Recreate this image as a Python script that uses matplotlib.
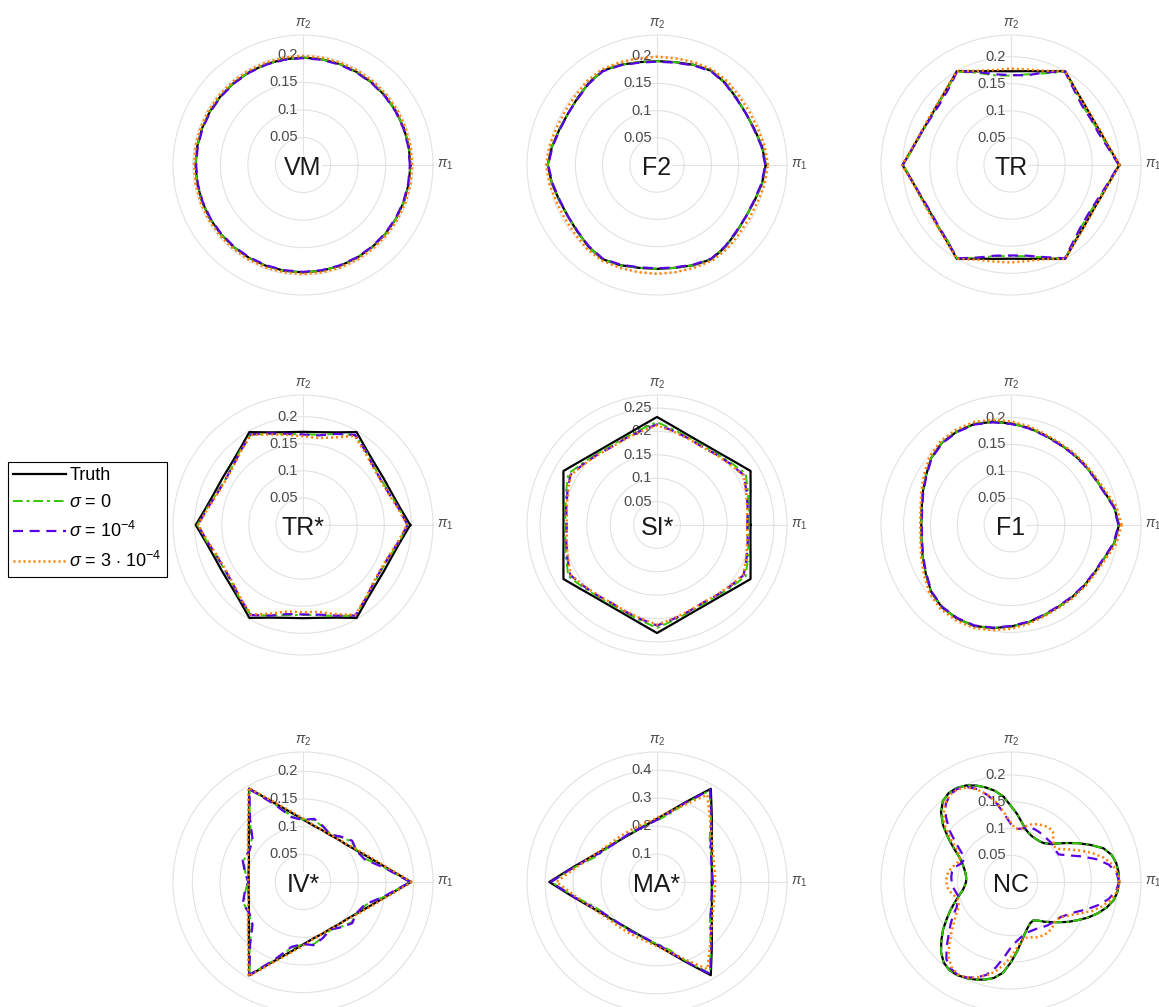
import numpy as np
import matplotlib.pyplot as plt
from matplotlib.transforms import offset_copy

plt.rcParams['font.family'] = ['Liberation Sans', 'DejaVu Sans']
plt.rcParams['mathtext.fontset'] = 'custom'
plt.rcParams['mathtext.rm'] = 'Liberation Sans'
plt.rcParams['mathtext.it'] = 'Liberation Sans:italic'

# radius of each curve, read at equal angle steps from 0 (pi_1 axis) counter-clockwise
# (10 degree steps, 5 degree steps for NC)
vm_truth = [0.195, 0.195, 0.195, 0.195, 0.195, 0.195, 0.195, 0.195, 0.195, 0.195, 0.195, 0.195,
            0.195, 0.195, 0.195, 0.195, 0.195, 0.195, 0.195, 0.195, 0.195, 0.195, 0.195, 0.195,
            0.195, 0.195, 0.195, 0.195, 0.195, 0.195, 0.195, 0.195, 0.195, 0.195, 0.195, 0.195]
vm_s0 = [0.195, 0.195, 0.195, 0.195, 0.195, 0.195, 0.195, 0.195, 0.195, 0.195, 0.195, 0.195,
         0.195, 0.195, 0.195, 0.195, 0.195, 0.195, 0.195, 0.195, 0.195, 0.195, 0.195, 0.195,
         0.195, 0.195, 0.195, 0.195, 0.195, 0.195, 0.195, 0.195, 0.195, 0.195, 0.195, 0.195]
vm_s1 = [0.194, 0.194, 0.194, 0.194, 0.194, 0.194, 0.194, 0.194, 0.194, 0.194, 0.194, 0.194,
         0.194, 0.194, 0.194, 0.194, 0.194, 0.194, 0.194, 0.194, 0.194, 0.194, 0.194, 0.194,
         0.194, 0.194, 0.194, 0.194, 0.194, 0.194, 0.194, 0.194, 0.194, 0.194, 0.194, 0.194]
vm_s3 = [0.198, 0.198, 0.198, 0.198, 0.198, 0.198, 0.198, 0.198, 0.198, 0.198, 0.198, 0.198,
         0.198, 0.198, 0.198, 0.198, 0.198, 0.198, 0.198, 0.198, 0.198, 0.198, 0.198, 0.198,
         0.198, 0.198, 0.198, 0.198, 0.198, 0.198, 0.198, 0.198, 0.198, 0.198, 0.198, 0.198]

f2_truth = [0.200, 0.196, 0.191, 0.189, 0.191, 0.196, 0.200, 0.196, 0.192, 0.191, 0.192, 0.196,
            0.200, 0.196, 0.191, 0.189, 0.191, 0.196, 0.201, 0.196, 0.191, 0.189, 0.191, 0.196,
            0.200, 0.196, 0.192, 0.191, 0.192, 0.196, 0.200, 0.196, 0.191, 0.189, 0.191, 0.196]
f2_s0 = [0.200, 0.196, 0.191, 0.189, 0.191, 0.196, 0.200, 0.196, 0.192, 0.191, 0.192, 0.196,
         0.200, 0.196, 0.191, 0.189, 0.191, 0.196, 0.201, 0.196, 0.191, 0.189, 0.191, 0.196,
         0.200, 0.196, 0.192, 0.191, 0.192, 0.196, 0.200, 0.196, 0.191, 0.189, 0.191, 0.196]
f2_s1 = [0.199, 0.195, 0.190, 0.189, 0.190, 0.195, 0.199, 0.195, 0.191, 0.190, 0.191, 0.195,
         0.199, 0.195, 0.190, 0.189, 0.190, 0.195, 0.200, 0.195, 0.190, 0.189, 0.190, 0.195,
         0.199, 0.195, 0.191, 0.190, 0.191, 0.195, 0.199, 0.195, 0.190, 0.189, 0.190, 0.195]
f2_s3 = [0.204, 0.201, 0.197, 0.196, 0.197, 0.201, 0.203, 0.201, 0.199, 0.199, 0.199, 0.201,
         0.203, 0.201, 0.197, 0.196, 0.197, 0.201, 0.204, 0.201, 0.197, 0.196, 0.197, 0.201,
         0.203, 0.201, 0.200, 0.200, 0.200, 0.201, 0.203, 0.201, 0.197, 0.196, 0.197, 0.201]

tr_truth = [0.200, 0.184, 0.176, 0.173, 0.176, 0.184, 0.200, 0.184, 0.176, 0.173, 0.176, 0.184,
            0.200, 0.184, 0.176, 0.173, 0.176, 0.184, 0.200, 0.184, 0.176, 0.173, 0.176, 0.184,
            0.200, 0.184, 0.176, 0.173, 0.176, 0.184, 0.200, 0.184, 0.176, 0.173, 0.176, 0.184]
tr_s0 = [0.199, 0.183, 0.174, 0.170, 0.172, 0.182, 0.199, 0.180, 0.170, 0.165, 0.168, 0.181,
         0.199, 0.183, 0.176, 0.172, 0.175, 0.183, 0.199, 0.183, 0.177, 0.174, 0.176, 0.182,
         0.199, 0.182, 0.171, 0.168, 0.171, 0.182, 0.199, 0.182, 0.172, 0.170, 0.174, 0.184]
tr_s1 = [0.199, 0.182, 0.172, 0.170, 0.171, 0.181, 0.199, 0.182, 0.168, 0.166, 0.170, 0.183,
         0.199, 0.181, 0.173, 0.172, 0.176, 0.184, 0.200, 0.184, 0.175, 0.172, 0.175, 0.183,
         0.199, 0.182, 0.170, 0.167, 0.170, 0.181, 0.199, 0.181, 0.171, 0.169, 0.173, 0.183]
tr_s3 = [0.201, 0.185, 0.177, 0.174, 0.176, 0.184, 0.200, 0.185, 0.179, 0.178, 0.178, 0.185,
         0.200, 0.185, 0.177, 0.175, 0.177, 0.185, 0.201, 0.185, 0.177, 0.175, 0.177, 0.185,
         0.200, 0.186, 0.181, 0.180, 0.180, 0.185, 0.200, 0.185, 0.177, 0.174, 0.176, 0.185]

trs_truth = [0.198, 0.182, 0.174, 0.172, 0.174, 0.182, 0.198, 0.182, 0.174, 0.172, 0.174, 0.182,
             0.198, 0.182, 0.174, 0.172, 0.174, 0.182, 0.198, 0.182, 0.174, 0.172, 0.174, 0.182,
             0.198, 0.182, 0.174, 0.172, 0.174, 0.182, 0.198, 0.182, 0.174, 0.172, 0.174, 0.182]
trs_s0 = [0.193, 0.180, 0.170, 0.167, 0.170, 0.180, 0.192, 0.179, 0.169, 0.168, 0.170, 0.179,
          0.193, 0.180, 0.170, 0.166, 0.170, 0.180, 0.195, 0.180, 0.170, 0.167, 0.170, 0.180,
          0.192, 0.178, 0.169, 0.166, 0.169, 0.179, 0.193, 0.179, 0.170, 0.167, 0.170, 0.180]
trs_s1 = [0.193, 0.179, 0.169, 0.166, 0.169, 0.179, 0.192, 0.179, 0.168, 0.167, 0.171, 0.180,
          0.193, 0.179, 0.169, 0.166, 0.169, 0.179, 0.194, 0.179, 0.169, 0.166, 0.169, 0.179,
          0.192, 0.178, 0.167, 0.165, 0.168, 0.178, 0.193, 0.179, 0.169, 0.166, 0.169, 0.179]
trs_s3 = [0.192, 0.178, 0.168, 0.165, 0.168, 0.177, 0.190, 0.172, 0.163, 0.164, 0.169, 0.178,
          0.192, 0.178, 0.168, 0.165, 0.168, 0.178, 0.194, 0.178, 0.168, 0.165, 0.168, 0.178,
          0.191, 0.174, 0.162, 0.161, 0.163, 0.175, 0.192, 0.178, 0.168, 0.165, 0.168, 0.178]

si_truth = [0.200, 0.203, 0.213, 0.231, 0.213, 0.203, 0.200, 0.203, 0.213, 0.231, 0.213, 0.203,
            0.200, 0.203, 0.213, 0.231, 0.213, 0.203, 0.200, 0.203, 0.213, 0.231, 0.213, 0.203,
            0.200, 0.203, 0.213, 0.231, 0.213, 0.203, 0.200, 0.203, 0.213, 0.231, 0.213, 0.203]
si_s0 = [0.196, 0.199, 0.207, 0.219, 0.207, 0.199, 0.196, 0.199, 0.207, 0.220, 0.207, 0.199,
         0.196, 0.199, 0.207, 0.219, 0.207, 0.199, 0.196, 0.199, 0.207, 0.219, 0.207, 0.199,
         0.196, 0.199, 0.207, 0.220, 0.207, 0.199, 0.196, 0.199, 0.207, 0.219, 0.207, 0.199]
si_s1 = [0.193, 0.197, 0.204, 0.214, 0.204, 0.197, 0.193, 0.197, 0.204, 0.215, 0.204, 0.197,
         0.193, 0.197, 0.204, 0.214, 0.204, 0.197, 0.193, 0.197, 0.204, 0.214, 0.204, 0.197,
         0.193, 0.197, 0.204, 0.215, 0.204, 0.197, 0.193, 0.197, 0.204, 0.214, 0.204, 0.197]
si_s3 = [0.193, 0.196, 0.203, 0.213, 0.203, 0.196, 0.193, 0.196, 0.203, 0.213, 0.203, 0.196,
         0.193, 0.196, 0.203, 0.213, 0.203, 0.196, 0.193, 0.196, 0.203, 0.213, 0.203, 0.196,
         0.193, 0.196, 0.203, 0.213, 0.203, 0.196, 0.193, 0.196, 0.203, 0.213, 0.203, 0.196]

f1_truth = [0.201, 0.195, 0.184, 0.179, 0.177, 0.176, 0.176, 0.179, 0.184, 0.189, 0.195, 0.200,
            0.201, 0.200, 0.194, 0.183, 0.175, 0.169, 0.167, 0.169, 0.175, 0.183, 0.194, 0.200,
            0.201, 0.200, 0.195, 0.189, 0.184, 0.179, 0.176, 0.176, 0.177, 0.179, 0.184, 0.195]
f1_s0 = [0.201, 0.195, 0.184, 0.179, 0.177, 0.176, 0.176, 0.179, 0.184, 0.189, 0.195, 0.200,
         0.201, 0.200, 0.194, 0.183, 0.175, 0.169, 0.167, 0.169, 0.175, 0.183, 0.194, 0.200,
         0.201, 0.200, 0.195, 0.189, 0.184, 0.179, 0.176, 0.176, 0.177, 0.179, 0.184, 0.195]
f1_s1 = [0.200, 0.194, 0.183, 0.178, 0.176, 0.175, 0.175, 0.178, 0.183, 0.188, 0.194, 0.199,
         0.200, 0.199, 0.193, 0.182, 0.174, 0.168, 0.166, 0.168, 0.174, 0.182, 0.193, 0.199,
         0.200, 0.199, 0.194, 0.188, 0.183, 0.178, 0.175, 0.175, 0.176, 0.178, 0.183, 0.194]
f1_s3 = [0.206, 0.199, 0.187, 0.181, 0.179, 0.178, 0.178, 0.181, 0.187, 0.193, 0.199, 0.204,
         0.205, 0.204, 0.198, 0.187, 0.178, 0.171, 0.169, 0.171, 0.178, 0.187, 0.198, 0.204,
         0.205, 0.204, 0.199, 0.193, 0.187, 0.181, 0.178, 0.178, 0.179, 0.181, 0.187, 0.199]

iv_truth = [0.195, 0.152, 0.128, 0.113, 0.104, 0.100, 0.098, 0.100, 0.104, 0.113, 0.128, 0.152,
            0.195, 0.152, 0.128, 0.113, 0.104, 0.100, 0.098, 0.100, 0.104, 0.113, 0.128, 0.152,
            0.195, 0.152, 0.128, 0.113, 0.104, 0.100, 0.098, 0.100, 0.104, 0.113, 0.128, 0.152]
iv_s0 = [0.193, 0.150, 0.121, 0.113, 0.114, 0.106, 0.100, 0.106, 0.114, 0.113, 0.121, 0.150,
         0.193, 0.150, 0.121, 0.113, 0.114, 0.106, 0.100, 0.106, 0.114, 0.113, 0.121, 0.150,
         0.193, 0.150, 0.121, 0.113, 0.114, 0.106, 0.100, 0.106, 0.114, 0.113, 0.121, 0.150]
iv_s1 = [0.194, 0.149, 0.119, 0.112, 0.116, 0.107, 0.099, 0.107, 0.116, 0.112, 0.119, 0.149,
         0.194, 0.149, 0.119, 0.112, 0.116, 0.107, 0.099, 0.107, 0.116, 0.112, 0.119, 0.149,
         0.194, 0.149, 0.119, 0.112, 0.116, 0.107, 0.099, 0.107, 0.116, 0.112, 0.119, 0.149]
iv_s3 = [0.197, 0.154, 0.130, 0.115, 0.105, 0.100, 0.099, 0.100, 0.105, 0.115, 0.130, 0.154,
         0.197, 0.154, 0.130, 0.115, 0.105, 0.100, 0.099, 0.100, 0.105, 0.115, 0.130, 0.154,
         0.197, 0.154, 0.130, 0.115, 0.105, 0.100, 0.099, 0.100, 0.105, 0.115, 0.130, 0.154]

ma_truth = [0.196, 0.199, 0.209, 0.226, 0.256, 0.305, 0.385, 0.305, 0.256, 0.226, 0.209, 0.199,
            0.196, 0.199, 0.209, 0.226, 0.256, 0.305, 0.385, 0.305, 0.256, 0.226, 0.209, 0.199,
            0.196, 0.199, 0.209, 0.226, 0.256, 0.305, 0.385, 0.305, 0.256, 0.226, 0.209, 0.199]
ma_s0 = [0.198, 0.200, 0.212, 0.220, 0.246, 0.300, 0.378, 0.300, 0.246, 0.220, 0.212, 0.200,
         0.198, 0.200, 0.212, 0.220, 0.246, 0.300, 0.378, 0.300, 0.246, 0.220, 0.212, 0.200,
         0.198, 0.200, 0.212, 0.220, 0.246, 0.300, 0.378, 0.300, 0.246, 0.220, 0.212, 0.200]
ma_s1 = [0.200, 0.200, 0.207, 0.222, 0.252, 0.303, 0.380, 0.303, 0.252, 0.222, 0.207, 0.200,
         0.200, 0.200, 0.207, 0.222, 0.252, 0.303, 0.380, 0.303, 0.252, 0.222, 0.207, 0.200,
         0.200, 0.200, 0.207, 0.222, 0.252, 0.303, 0.380, 0.303, 0.252, 0.222, 0.207, 0.200]
ma_s3 = [0.208, 0.210, 0.216, 0.230, 0.255, 0.295, 0.360, 0.295, 0.255, 0.230, 0.216, 0.210,
         0.208, 0.210, 0.216, 0.230, 0.255, 0.295, 0.360, 0.295, 0.255, 0.230, 0.216, 0.210,
         0.208, 0.210, 0.216, 0.230, 0.255, 0.295, 0.360, 0.295, 0.255, 0.230, 0.216, 0.210]

nc_truth = [0.202, 0.202, 0.200, 0.195, 0.184, 0.164, 0.145, 0.127, 0.112, 0.101, 0.095, 0.093,
            0.093, 0.094, 0.097, 0.103, 0.114, 0.128, 0.142, 0.160, 0.173, 0.183, 0.192, 0.199,
            0.203, 0.203, 0.198, 0.185, 0.166, 0.143, 0.122, 0.105, 0.096, 0.090, 0.086, 0.084,
            0.084, 0.087, 0.092, 0.101, 0.112, 0.125, 0.139, 0.155, 0.170, 0.185, 0.196, 0.201,
            0.201, 0.198, 0.194, 0.189, 0.182, 0.170, 0.150, 0.130, 0.113, 0.100, 0.091, 0.085,
            0.083, 0.088, 0.097, 0.106, 0.117, 0.130, 0.143, 0.158, 0.172, 0.185, 0.195, 0.200]
nc_s0 = [0.202, 0.202, 0.200, 0.195, 0.184, 0.164, 0.145, 0.127, 0.112, 0.101, 0.095, 0.093,
         0.093, 0.094, 0.097, 0.103, 0.114, 0.128, 0.142, 0.160, 0.173, 0.183, 0.192, 0.199,
         0.203, 0.203, 0.198, 0.185, 0.166, 0.143, 0.122, 0.105, 0.096, 0.090, 0.086, 0.084,
         0.084, 0.087, 0.092, 0.101, 0.112, 0.125, 0.139, 0.155, 0.170, 0.185, 0.196, 0.201,
         0.201, 0.198, 0.194, 0.189, 0.182, 0.170, 0.150, 0.130, 0.113, 0.100, 0.091, 0.085,
         0.083, 0.088, 0.097, 0.106, 0.117, 0.130, 0.143, 0.158, 0.172, 0.185, 0.195, 0.200]
nc_s1 = [0.202, 0.198, 0.186, 0.165, 0.140, 0.118, 0.103, 0.102, 0.104, 0.105, 0.105, 0.106,
         0.107, 0.108, 0.108, 0.105, 0.101, 0.100, 0.108, 0.125, 0.148, 0.168, 0.185, 0.196,
         0.201, 0.199, 0.190, 0.172, 0.150, 0.125, 0.105, 0.097, 0.100, 0.108, 0.112, 0.112,
         0.111, 0.109, 0.105, 0.102, 0.106, 0.112, 0.125, 0.138, 0.152, 0.170, 0.188, 0.197,
         0.200, 0.197, 0.190, 0.180, 0.162, 0.140, 0.122, 0.112, 0.105, 0.101, 0.099, 0.099,
         0.100, 0.103, 0.106, 0.108, 0.110, 0.114, 0.122, 0.133, 0.150, 0.168, 0.185, 0.197]
nc_s3 = [0.203, 0.200, 0.192, 0.178, 0.160, 0.140, 0.122, 0.108, 0.104, 0.112, 0.122, 0.124,
         0.122, 0.119, 0.115, 0.108, 0.100, 0.100, 0.110, 0.128, 0.150, 0.168, 0.184, 0.195,
         0.200, 0.199, 0.192, 0.178, 0.160, 0.136, 0.114, 0.106, 0.106, 0.112, 0.118, 0.121,
         0.121, 0.119, 0.114, 0.107, 0.104, 0.108, 0.118, 0.130, 0.145, 0.163, 0.182, 0.194,
         0.199, 0.197, 0.190, 0.181, 0.170, 0.155, 0.140, 0.124, 0.112, 0.108, 0.110, 0.114,
         0.116, 0.117, 0.116, 0.113, 0.110, 0.115, 0.125, 0.140, 0.160, 0.176, 0.190, 0.199]

panel_names = ['VM', 'F2', 'TR', 'TR*', 'SI*', 'F1', 'IV*', 'MA*', 'NC']
panel_curves = [
    (vm_truth, vm_s0, vm_s1, vm_s3), (f2_truth, f2_s0, f2_s1, f2_s3), (tr_truth, tr_s0, tr_s1, tr_s3),
    (trs_truth, trs_s0, trs_s1, trs_s3), (si_truth, si_s0, si_s1, si_s3), (f1_truth, f1_s0, f1_s1, f1_s3),
    (iv_truth, iv_s0, iv_s1, iv_s3), (ma_truth, ma_s0, ma_s1, ma_s3), (nc_truth, nc_s0, nc_s1, nc_s3),
]
panel_rmax = [0.236, 0.239, 0.240, 0.240, 0.278, 0.242, 0.235, 0.465, 0.243]
small_ticks = [0.05, 0.1, 0.15, 0.2]
panel_ticks = [small_ticks, small_ticks, small_ticks, small_ticks, [0.05, 0.1, 0.15, 0.2, 0.25],
               small_ticks, small_ticks, [0.1, 0.2, 0.3, 0.4], small_ticks]

series_labels = ['Truth', r'$\sigma$ = 0', r'$\sigma$ = 10$^{-4}$', r'$\sigma$ = 3 $\cdot$ 10$^{-4}$']
series_colors = ['black', '#33c800', '#5a00e6', '#ff8000']
series_styles = ['-', (0, (5, 2, 1.5, 2)), (0, (4.5, 3)), (0, (0.8, 1.2))]
series_widths = [1.6, 1.4, 1.6, 1.8]

W, H = 1159, 1007
fig = plt.figure(figsize=(W / 100, H / 100), dpi=100)
col_x = [303, 657, 1011]
row_y = [165, 525, 882]
R = 130
grid_col = '#e2e2e2'
lab_col = '#4a4a4a'

handles = []
for i, name in enumerate(panel_names):
    cx, cy = col_x[i % 3], row_y[i // 3]
    ax = fig.add_axes([(cx - R) / W, 1 - (cy + R) / H, 2 * R / W, 2 * R / H], projection='polar')
    rmax = panel_rmax[i]
    for k, r in enumerate(panel_curves[i]):
        th = np.linspace(0, 2 * np.pi, len(r), endpoint=False)
        th = np.append(th, th[0])
        rr = np.append(r, r[0])
        ln, = ax.plot(th, rr, color=series_colors[k], linestyle=series_styles[k],
                      lw=series_widths[k], label=series_labels[k], zorder=3 + k)
        if i == 0:
            handles.append(ln)
    ax.set_rlim(0, rmax)
    ax.set_rgrids(panel_ticks[i], labels=['' for t in panel_ticks[i]])
    ax.set_thetagrids([0, 90], labels=['', ''])
    ax.grid(color=grid_col, lw=0.8)
    ax.spines['polar'].set_edgecolor(grid_col)
    ax.spines['polar'].set_linewidth(0.8)
    ax.tick_params(pad=0)
    left_tr = offset_copy(ax.transData, fig=fig, x=-5, y=0, units='dots')
    for t in panel_ticks[i]:
        ax.text(np.pi / 2, t, '%g' % t, transform=left_tr, ha='right', va='center',
                fontsize=10.5, color=lab_col, zorder=2)
    ax.text(0, rmax, r'$\pi_1$', transform=offset_copy(ax.transData, fig=fig, x=4, y=0, units='dots'),
            ha='left', va='center', fontsize=10, color=lab_col)
    ax.text(np.pi / 2, rmax, r'$\pi_2$', transform=offset_copy(ax.transData, fig=fig, x=0, y=4, units='dots'),
            ha='center', va='bottom', fontsize=10, color=lab_col)
    ax.text(0, 0, name, transform=offset_copy(ax.transData, fig=fig, x=0, y=-3, units='dots'),
            ha='center', va='center', fontsize=18, color='#1a1a1a', zorder=2.5,
            bbox=dict(facecolor='white', edgecolor='none', pad=0.5))

leg = fig.legend(handles, series_labels, loc='upper left', bbox_to_anchor=(8 / W, 1 - 462 / H),
                 bbox_transform=fig.transFigure, frameon=True, fancybox=False, edgecolor='black',
                 framealpha=1, borderaxespad=0, fontsize=13, handlelength=2.9, handletextpad=0.2,
                 borderpad=0.3, labelspacing=0.55)
leg.get_frame().set_linewidth(0.8)

fig.savefig('out.png', dpi=100)
